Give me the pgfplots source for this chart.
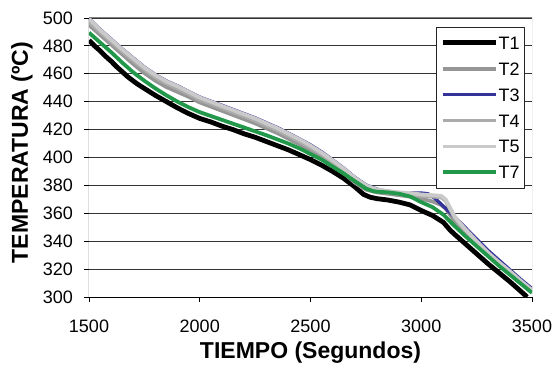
\documentclass[border=0pt]{standalone}
\usepackage{fontspec}
\setmainfont{Liberation Sans}
\usepackage{pgfplots}
\usepackage{pgfplotstable}
\pgfplotsset{compat=1.18}

\definecolor{cT2}{HTML}{969696}
\definecolor{cT3}{HTML}{333399}
\definecolor{cT4}{HTML}{ABABAB}
\definecolor{cT5}{HTML}{CACACA}
\definecolor{cT7}{HTML}{22994A}

% cooling curves, time (s) vs temperature (C)
\pgfplotstableread{
t T
1500 484
1525 480
1550 476.5
1575 472.5
1600 469
1625 465
1650 461.5
1670 458.5
1690 456
1720 452.5
1750 449.5
1775 447
1800 444.5
1850 440
1900 435.5
1950 431.5
2000 428
2050 425.5
2100 422.5
2150 420
2200 417
2250 414.5
2300 411.5
2350 408.5
2400 405.5
2450 402
2500 398.5
2550 394.5
2600 390
2650 385
2700 379
2740 373.5
2770 371.5
2800 370.5
2850 369.5
2900 368
2950 366
3000 362
3050 358.5
3100 353.5
3130 348
3150 345
3200 338
3250 331
3300 324
3350 317.5
3400 311
3450 304
3478 300
}\tone

\pgfplotstableread{
t T
1500 495
1550 488
1600 481
1650 474
1700 467
1750 460.5
1800 455
1850 450.5
1900 447
1950 443.5
2000 439.5
2050 436.5
2100 433.5
2150 430.5
2200 427.5
2250 424.5
2300 421
2350 417.5
2400 413.5
2450 409.5
2500 405
2550 400.5
2600 395
2650 389
2700 382
2750 377
2800 375
2850 374
2900 373
2950 372
3000 370.5
3050 368.5
3090 366
3110 363.5
3130 359
3150 354.5
3175 350.5
3200 346
3250 338
3300 330.5
3350 323.5
3400 317
3450 310
3500 303.5
}\ttwo

\pgfplotstableread{
t T
1500 499.5
1550 491.8
1600 484.8
1650 477.8
1700 471.3
1750 464.8
1800 459.3
1850 454.8
1900 451.3
1950 447.3
2000 443.3
2050 440.3
2100 437.4
2150 434.4
2200 431.4
2250 428.4
2300 424.9
2350 421.4
2400 417.4
2450 413.3
2500 409
2550 404
2600 398.3
2650 392.3
2700 385.8
2750 380.3
2800 377.3
2850 375.5
2900 374.5
2950 374.5
3000 374.5
3030 374
3060 371
3100 365
3150 357.5
3200 349.5
3250 341.5
3300 333.5
3350 326.5
3400 319.5
3450 312.5
3500 306
}\tthree

\pgfplotstableread{
t T
1500 497
1550 490
1600 483
1650 476
1700 469.5
1750 463
1800 457.5
1850 453
1900 449.5
1950 445.5
2000 441.5
2050 438.5
2100 435.5
2150 432.5
2200 429.5
2250 426.5
2300 423
2350 419.5
2400 415.5
2450 411.5
2500 407
2550 402.5
2600 396.5
2650 390.5
2700 384
2750 378.5
2800 376
2850 375
2900 374
2950 373.5
3000 372.5
3050 372
3090 371.5
3110 369
3130 363
3150 357
3175 352
3200 347.5
3250 339
3300 331
3350 324
3400 317.5
3450 310.5
3500 304
}\tfour

\pgfplotstableread{
t T
1500 499.5
1550 491.5
1600 484.5
1650 477.5
1700 471
1750 464.5
1800 459
1850 454.5
1900 451
1950 447
2000 443
2050 440
2100 437
2150 434
2200 431
2250 428
2300 424.5
2350 421
2400 417
2450 413
2500 408.5
2550 403.5
2600 398
2650 392
2700 385.5
2750 380
2800 377
2850 376
2900 375
2950 374.5
3000 373.5
3050 373
3090 372.5
3110 370
3130 364
3150 358
3175 353
3200 348.5
3250 340
3300 332
3350 325
3400 318.5
3450 311.5
3500 305
}\tfive

\pgfplotstableread{
t T
1500 489.5
1550 482.5
1600 475.5
1650 468
1700 461
1750 455
1800 449.5
1850 444.5
1900 440
1950 436
2000 432.5
2100 427
2200 421.5
2300 416
2400 410
2450 406.5
2500 402.5
2550 398.5
2600 393.5
2650 388.5
2700 383
2750 377.8
2780 376
2800 375.5
2850 375
2900 374
2950 372
3000 368
3050 364.5
3100 359
3150 351
3200 343.5
3250 336.5
3300 329.5
3350 322.5
3400 316
3450 309.5
3500 303
}\tseven

\begin{document}
\begin{tikzpicture}
\useasboundingbox (-89bp,-76bp) rectangle (465bp,297bp);
\begin{axis}[
  at={(0,0)}, anchor=south west,
  scale only axis, width=443bp, height=279bp,
  xmin=1500, xmax=3500, ymin=300, ymax=500,
  xtick={1500,2000,...,3500},
  ytick={300,320,...,500},
  xtick pos=bottom, ytick pos=left,
  tick align=outside, major tick length=5bp,
  tick style={black, line width=0.8bp},
  ymajorgrids,
  major grid style={black!80, line width=0.8bp},
  axis line style={draw=none},
  /pgf/number format/assume math mode=true,
  /pgf/number format/1000 sep={},
  tick label style={font=\fontsize{18bp}{21bp}\selectfont},
  xticklabel style={anchor=north, inner sep=0pt, yshift=-18bp},
  yticklabel style={anchor=east, inner sep=0pt, xshift=-11bp},
  xlabel={TIEMPO (Segundos)},
  ylabel={TEMPERATURA (ºC)},
  label style={font=\bfseries\fontsize{23bp}{26bp}\selectfont},
  xlabel style={at={(axis description cs:0.5,0)}, anchor=base, inner sep=0pt, yshift=-61bp},
  ylabel style={at={(axis description cs:-0.1377,0.518)}, anchor=base, inner sep=0pt, rotate=0},
  legend cell align=left,
  legend image code/.code={\draw[#1] (0bp,0bp) -- (53bp,0bp);},
  legend style={at={(axis description cs:0.984,0.969)}, anchor=north east,
    draw=black!85, line width=0.8bp, fill=white,
    inner xsep=4bp, inner ysep=8.5bp, row sep=11.3bp,
    font=\fontsize{18bp}{21bp}\selectfont,
    nodes={inner sep=0.8bp, text height=13bp, text depth=0bp}},
  line join=round,
]
\addplot[black, line width=4.8bp] table[x=t, y=T] {\tone};
\addlegendentry{T1}
\addplot[cT2, line width=3.8bp] table[x=t, y=T] {\ttwo};
\addlegendentry{T2}
\addplot[cT3, line width=3.4bp] table[x=t, y=T] {\tthree};
\addlegendentry{T3}
\addplot[cT4, line width=3.8bp] table[x=t, y=T] {\tfour};
\addlegendentry{T4}
\addplot[cT5, line width=3.8bp] table[x=t, y=T] {\tfive};
\addlegendentry{T5}
\addplot[cT7, line width=3.8bp] table[x=t, y=T] {\tseven};
\addlegendentry{T7}
% frame: dark left/bottom axes, grey top/right edges
\draw[black, line width=1bp] (rel axis cs:0,1) -- (rel axis cs:0,0) -- (rel axis cs:1,0);
\draw[black!50, line width=1bp] (rel axis cs:0,1) -- (rel axis cs:1,1) -- (rel axis cs:1,0);
\end{axis}
\end{tikzpicture}
\end{document}
